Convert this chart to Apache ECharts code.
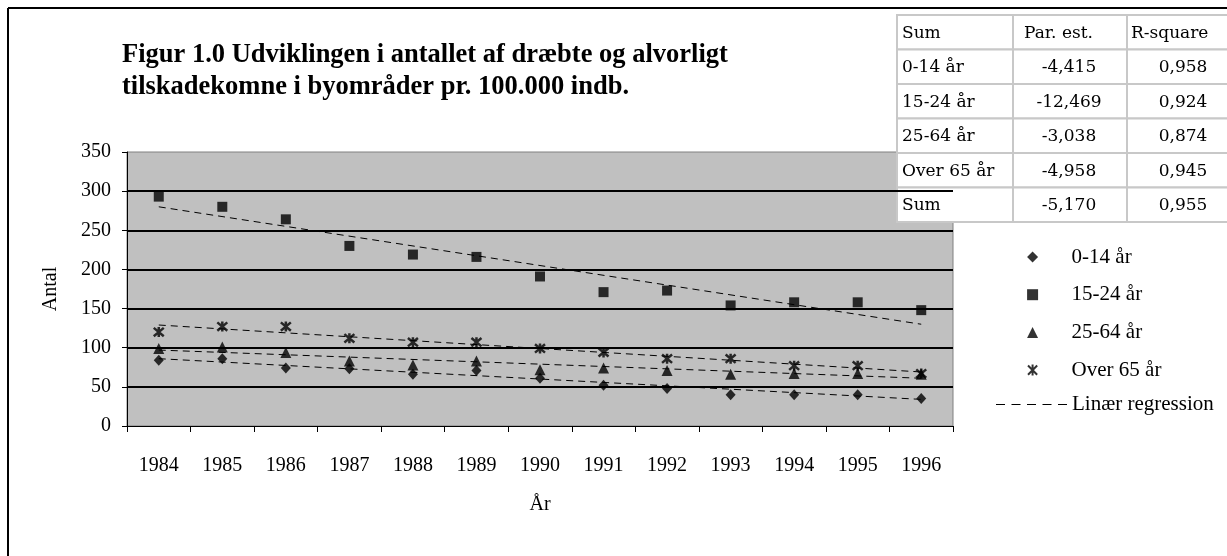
<!DOCTYPE html>
<html>
<head>
<meta charset="utf-8">
<script src="https://cdn.jsdelivr.net/npm/echarts@6/dist/echarts.min.js"></script>
<style>html,body{margin:0;padding:0;background:#fff}#c{width:1227px;height:556px}</style>
</head>
<body>
<div id="c"></div>
<script>
// ---- data ----
var years = ['1984','1985','1986','1987','1988','1989','1990','1991','1992','1993','1994','1995','1996'];
var age0014 = [84, 86, 74, 73, 66, 71, 61, 52, 48, 40, 40, 40, 35];
var age1524 = [293, 280, 264, 230, 219, 216, 191, 171, 173, 154, 158, 158, 148];
var age2564 = [99, 101, 94, 83, 78, 83, 72, 74, 71, 66, 67, 67, 66];
var age65plus = [120, 127, 127, 112, 107, 107, 99, 94, 86, 86, 77, 77, 67];
// regression line end points (1984, 1996)
var regStart = [86, 280, 97, 129];
var regEnd = [34, 130, 61, 69];
var seriesNames = ['0-14 år','15-24 år','25-64 år','Over 65 år'];
var regName = 'Linær regression';
var yTicks = [0, 50, 100, 150, 200, 250, 300, 350];
// table
var tableHeader = ['Sum','Par. est.','R-square'];
var tableRowNames = ['0-14 år','15-24 år','25-64 år','Over 65 år','Sum'];
var tableParEst = ['-4,415','-12,469','-3,038','-4,958','-5,170'];
var tableRSquare = ['0,958','0,924','0,874','0,945','0,955'];

var serif = 'Liberation Serif';
var starPath = 'path://M0,0L10,10M10,0L0,10M5,-1L5,11';
var dashPath = 'path://M0,0H9V1H0Z M15.5,0H24.5V1H15.5Z M31,0H40V1H31Z M46.5,0H55.5V1H46.5Z M62,0H71V1H62Z';
var symbols = ['diamond','rect','triangle',starPath];
var symbolSizes = [[10,11],[10,10],[11,11],[10,10]];
var allData = [age0014, age1524, age2564, age65plus];

var series = [];
for (var i = 0; i < 4; i++) {
  series.push({
    name: seriesNames[i], type: 'scatter', symbol: symbols[i], symbolSize: symbolSizes[i],
    itemStyle: i === 3 ? {color: '#000', borderColor: '#000', borderWidth: 2.5} : {color: '#000'},
    data: allData[i], z: 3
  });
}
for (var j = 0; j < 4; j++) {
  series.push({
    name: regName, type: 'line', symbol: 'none', silent: true, color: '#000',
    itemStyle: {color: '#000'},
    lineStyle: {color: '#000', width: 1, type: [7, 5]},
    data: [[years[0], regStart[j]], [years[years.length - 1], regEnd[j]]], z: 2
  });
}

// table graphics
var tx = [897, 1013, 1127, 1240];
var ty0 = 15, rh = 34.5;
var tableEls = [];
var rows = [tableHeader];
for (var r = 0; r < tableRowNames.length; r++) rows.push([tableRowNames[r], tableParEst[r], tableRSquare[r]]);
var tFont = '17px "DejaVu Serif"';
for (var r2 = 0; r2 < rows.length; r2++) {
  for (var c = 0; c < 3; c++) {
    tableEls.push({type: 'rect', shape: {x: tx[c], y: ty0 + r2 * rh, width: tx[c+1] - tx[c], height: rh},
      style: {fill: '#fff', stroke: '#c8c8c8', lineWidth: 2}});
    var cy = ty0 + r2 * rh + rh / 2 + 1;
    var tX, align;
    if (c === 0 || r2 === 0) { tX = [902, 1024, 1131][c]; align = 'left'; }
    else if (c === 1) { tX = 1069; align = 'center'; }
    else { tX = 1183; align = 'center'; }
    tableEls.push({type: 'text', x: tX, y: cy, style: {text: rows[r2][c], font: tFont, fill: '#000', align: align, verticalAlign: 'middle'}});
  }
}

var legendText = {fontFamily: serif, fontSize: 21, color: '#000', lineHeight: 20};
var chart = echarts.init(document.getElementById('c'));
chart.setOption({
  animation: false,
  backgroundColor: '#fff',
  title: {
    text: 'Figur 1.0 Udviklingen i antallet af dræbte og alvorligt\ntilskadekomne i byområder pr. 100.000 indb.',
    left: 117, top: 34,
    textStyle: {fontFamily: serif, fontWeight: 'bold', fontSize: 26.5, lineHeight: 32, color: '#000'}
  },
  grid: {left: 127, right: 274, top: 152, bottom: 130, show: true, backgroundColor: '#c0c0c0', borderColor: '#808080', borderWidth: 1},
  legend: [{
    orient: 'vertical', left: 1022, top: 241.5, itemWidth: 11, itemHeight: 11, itemGap: 16.7,
    data: seriesNames,
    textStyle: Object.assign({padding: [0, 0, 0, 28.5]}, legendText),
    selectedMode: false
  }, {
    orient: 'vertical', left: 991, top: 389, itemWidth: 71, itemHeight: 1,
    data: [{name: regName, icon: dashPath, itemStyle: {color: '#000', borderWidth: 0}, lineStyle: {width: 0}}],
    textStyle: Object.assign({padding: [0, 0, 0, 0]}, legendText),
    selectedMode: false
  }],
  xAxis: {
    type: 'category', data: years, boundaryGap: true,
    name: 'År', nameLocation: 'middle', nameGap: 69,
    nameTextStyle: {fontFamily: serif, fontSize: 20, color: '#000'},
    axisLine: {lineStyle: {color: '#000', width: 1}},
    axisTick: {show: true, interval: 0, length: 6, lineStyle: {color: '#000'}},
    axisLabel: {interval: 0, margin: 30, fontFamily: serif, fontSize: 20, color: '#000'},
    splitLine: {show: false}
  },
  yAxis: {
    type: 'value', min: yTicks[0], max: yTicks[yTicks.length - 1], interval: yTicks[1] - yTicks[0],
    name: 'Antal', nameLocation: 'middle', nameGap: 66, nameRotate: 90,
    nameTextStyle: {fontFamily: serif, fontSize: 20, color: '#000'},
    axisLine: {show: true, lineStyle: {color: '#000', width: 1}},
    axisTick: {show: true, length: 5, lineStyle: {color: '#000'}},
    axisLabel: {margin: 16, fontFamily: serif, fontSize: 20, color: '#000'},
    splitLine: {show: true, showMinLine: false, showMaxLine: false, lineStyle: {color: '#000', width: 2}}
  },
  graphic: [
    {type: 'line', shape: {x1: 8, y1: 8, x2: 1240, y2: 8}, style: {stroke: '#000', lineWidth: 2}, z: 100},
    {type: 'line', shape: {x1: 8, y1: 8, x2: 8, y2: 600}, style: {stroke: '#000', lineWidth: 2}, z: 100},
    {type: 'group', z: 100, children: tableEls}
  ],
  series: series
});
</script>
</body>
</html>
